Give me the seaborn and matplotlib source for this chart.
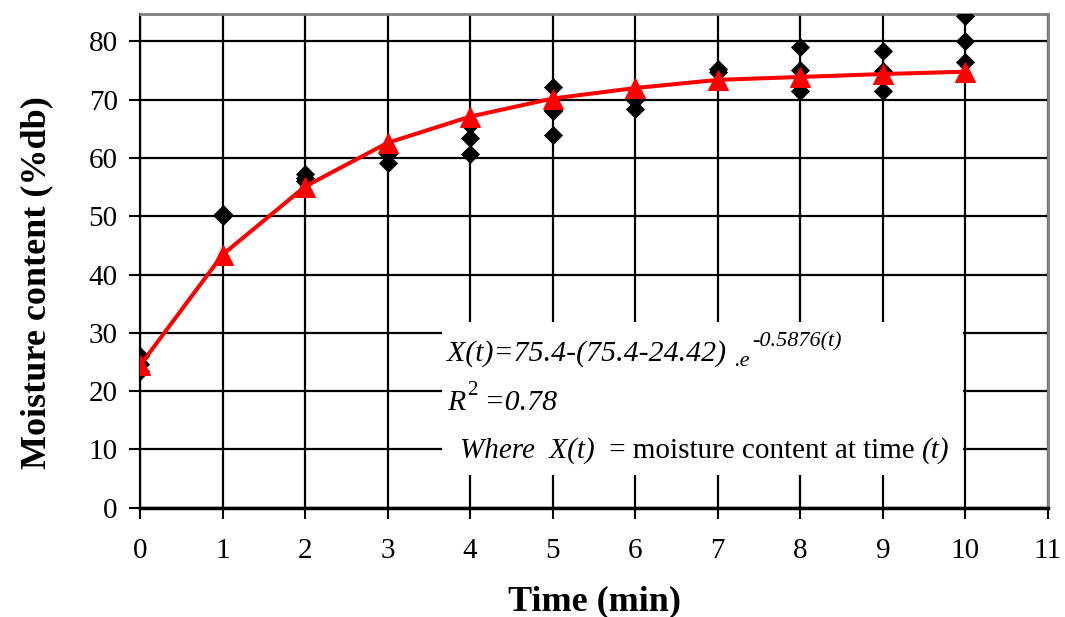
import matplotlib
matplotlib.use("Agg")
import matplotlib.pyplot as plt
import seaborn as sns
import pandas as pd

# Observed moisture content readings (several replicates per time step)
obs_time = [0, 0, 0, 1, 1, 2, 2, 2, 3, 3, 4, 4, 4, 5, 5, 5, 5,
            6, 6, 7, 7, 8, 8, 8, 9, 9, 9, 10, 10, 10]
obs_moisture = [26.0, 24.6, 23.4, 50.4, 50.1, 57.3, 56.5, 56.0, 60.7, 59.2,
                65.6, 63.4, 60.7, 72.1, 68.3, 68.0, 63.9,
                70.0, 68.4, 75.3, 74.8, 79.0, 75.1, 71.5, 78.3, 75.0, 71.5,
                84.3, 80.1, 76.5]

# Model-predicted moisture content
fit_time = [0, 1, 2, 3, 4, 5, 6, 7, 8, 9, 10]
fit_moisture = [24.4, 43.4, 55.1, 62.6, 67.1, 70.2, 72.0, 73.4, 73.9, 74.4, 74.8]

x_ticks = list(range(0, 12))
y_ticks = list(range(0, 90, 10))

sns.set_style("white")
plt.rcParams["font.family"] = ["Liberation Serif", "DejaVu Serif"]
plt.rcParams["text.color"] = "black"
plt.rcParams["axes.labelcolor"] = "black"

fig = plt.figure(figsize=(10.65, 6.17), dpi=100)
ax = fig.add_axes([140 / 1065, 1 - 507.7 / 617, (1048 - 140) / 1065, (507.7 - 14) / 617])

obs = pd.DataFrame({"t": obs_time, "m": obs_moisture})
fit = pd.DataFrame({"t": fit_time, "m": fit_moisture})

sns.scatterplot(data=obs, x="t", y="m", marker="D", s=85, color="black",
                edgecolor="black", linewidth=0.5, ax=ax, zorder=4)
sns.lineplot(data=fit, x="t", y="m", color="#ff0000", linewidth=2.9,
             marker="^", markersize=14, markeredgecolor="#ff0000",
             markerfacecolor="#ff0000", ax=ax, zorder=5)

ax.set_xlim(0, 11)
ax.set_ylim(0, 84.7)
ax.set_xticks(x_ticks)
ax.set_yticks(y_ticks)
ax.tick_params(axis="both", labelsize=21, colors="black", length=8, width=1.5,
               direction="out", bottom=True, left=True)
ax.tick_params(axis="x", pad=14)
ax.tick_params(axis="y", pad=8)

ax.grid(True, color="black", linewidth=1.6)
ax.set_axisbelow(True)

for side in ("top", "right"):
    ax.spines[side].set_color("#808080")
    ax.spines[side].set_linewidth(2)
ax.spines["left"].set_color("black")
ax.spines["left"].set_linewidth(1.6)
ax.spines["bottom"].set_color("black")
ax.spines["bottom"].set_linewidth(2.5)

ax.set_xlabel("Time (min)", fontsize=26, fontweight="bold", labelpad=15)
ax.set_ylabel("Moisture content (%db)", fontsize=26, fontweight="bold")
ax.yaxis.set_label_coords(-0.095, 0.457)

# White panel holding the model equation
ax.add_patch(plt.Rectangle((3.66, 5.6), 9.97 - 3.66, 31.9 - 5.6,
                           facecolor="white", edgecolor="none", zorder=2))

fs = 21.5
t1 = ax.text(3.72, 25.2, "X(t)=75.4-(75.4-24.42) ", fontsize=fs, style="italic", zorder=6)
t1b = ax.annotate(".e", xy=(1, 0), xycoords=t1, xytext=(0, -3),
                  textcoords="offset points", fontsize=16, style="italic",
                  va="bottom", zorder=6)
ax.annotate("-0.5876(t)", xy=(1, 0), xycoords=t1b, xytext=(2, 14),
            textcoords="offset points", fontsize=16, style="italic",
            va="bottom", zorder=6)

t2 = ax.text(3.72, 16.8, "R", fontsize=fs, style="italic", zorder=6)
t2b = ax.annotate("2", xy=(1, 0), xycoords=t2, xytext=(1, 11),
                  textcoords="offset points", fontsize=15, va="bottom", zorder=6)
ax.annotate(" =0.78", xy=(1, 0), xycoords=t2b, xytext=(0, -11),
            textcoords="offset points", fontsize=fs, style="italic",
            va="bottom", zorder=6)

fs3 = 21
t3 = ax.text(3.88, 8.6, "Where  X(t) ", fontsize=fs3, style="italic", zorder=6)
t3b = ax.annotate(" = moisture content at time ", xy=(1, 0), xycoords=t3,
                  xytext=(0, 0), textcoords="offset points", fontsize=fs3,
                  va="bottom", zorder=6)
ax.annotate("(t)", xy=(1, 0), xycoords=t3b, xytext=(0, 0),
            textcoords="offset points", fontsize=fs3, style="italic",
            va="bottom", zorder=6)

fig.savefig("out.png", dpi=100)
